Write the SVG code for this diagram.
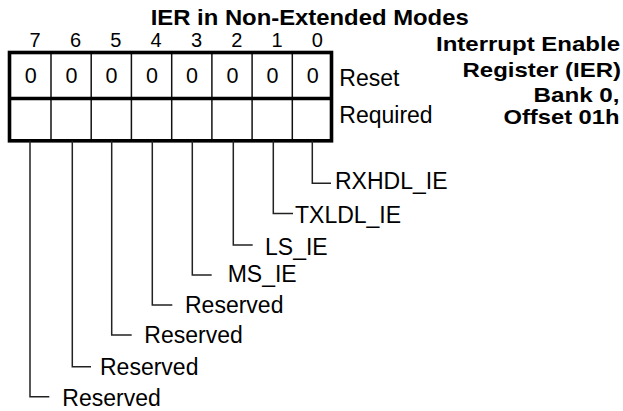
<svg xmlns="http://www.w3.org/2000/svg" width="623" height="411" viewBox="0 0 623 411">
<style>
.b{font-family:"Liberation Sans",Arial,sans-serif;font-weight:bold;font-size:20.5px;fill:#000}
.h{font-family:"Liberation Sans",Arial,sans-serif;font-weight:bold;font-size:22px;fill:#000}
.t{font-family:"Liberation Sans",Arial,sans-serif;font-size:23px;fill:#000}
.d{font-family:"Liberation Sans",Arial,sans-serif;font-size:20px;fill:#000;text-anchor:middle}
.z{font-family:"Liberation Sans",Arial,sans-serif;font-size:21.5px;fill:#000;text-anchor:middle}
.thick{stroke:#000;stroke-width:3.6;fill:none}
.thin{stroke:#111;stroke-width:1.5;fill:none}
.c{stroke:#222;stroke-width:1.5;fill:none}
</style>
<rect width="623" height="411" fill="#fff"/>
<g id="title">
<text class="h" x="150.7" y="25.3" textLength="318" lengthAdjust="spacingAndGlyphs">IER in Non-Extended Modes</text>
</g>
<g id="caption">
<text class="b" x="436" y="50.5" textLength="184" lengthAdjust="spacingAndGlyphs">Interrupt Enable</text>
<text class="b" x="462.5" y="77" textLength="158.5" lengthAdjust="spacingAndGlyphs">Register (IER)</text>
<text class="b" x="533.5" y="102" textLength="86" lengthAdjust="spacingAndGlyphs">Bank 0,</text>
<text class="b" x="503.5" y="124" textLength="116" lengthAdjust="spacingAndGlyphs">Offset 01h</text>
</g>
<g id="bit-numbers">
<text class="d" x="35" y="47">7</text>
<text class="d" x="75.6" y="47">6</text>
<text class="d" x="115.8" y="47">5</text>
<text class="d" x="156" y="47">4</text>
<text class="d" x="196.5" y="47">3</text>
<text class="d" x="236.7" y="47">2</text>
<text class="d" x="277" y="47">1</text>
<text class="d" x="317.3" y="47">0</text>
</g>
<g id="register">
<line class="thin" x1="51" y1="52.5" x2="51" y2="140.8"/>
<line class="thin" x1="91.2" y1="52.5" x2="91.2" y2="140.8"/>
<line class="thin" x1="131.4" y1="52.5" x2="131.4" y2="140.8"/>
<line class="thin" x1="171.7" y1="52.5" x2="171.7" y2="140.8"/>
<line class="thin" x1="211.9" y1="52.5" x2="211.9" y2="140.8"/>
<line class="thin" x1="252.1" y1="52.5" x2="252.1" y2="140.8"/>
<line class="thin" x1="292.3" y1="52.5" x2="292.3" y2="140.8"/>
<rect class="thick" x="9.5" y="52.5" width="322" height="88.3"/>
<line class="thick" x1="9.5" y1="98.5" x2="331.5" y2="98.5" stroke-width="4"/>
<text class="z" x="30.7" y="83.3">0</text>
<text class="z" x="71.4" y="83.3">0</text>
<text class="z" x="111.6" y="83.3">0</text>
<text class="z" x="151.9" y="83.3">0</text>
<text class="z" x="192.1" y="83.3">0</text>
<text class="z" x="232.4" y="83.3">0</text>
<text class="z" x="272.6" y="83.3">0</text>
<text class="z" x="312.8" y="83.3">0</text>
<text class="t" x="339.3" y="86">Reset</text>
<text class="t" x="339.3" y="123">Required</text>
</g>
<g id="connectors">
<polyline class="c" points="312.3,140.8 312.3,183.3 331,183.3"/>
<polyline class="c" points="273.3,140.8 273.3,213.5 293,213.5"/>
<polyline class="c" points="233.3,140.8 233.3,245 252.7,245"/>
<polyline class="c" points="192.3,140.8 192.3,275 211.7,275"/>
<polyline class="c" points="152.3,140.8 152.3,305 172.3,305"/>
<polyline class="c" points="111.7,140.8 111.7,335 131.7,335"/>
<polyline class="c" points="72.3,140.8 72.3,366.7 91,366.7"/>
<polyline class="c" points="30,140.8 30,396.7 49.3,396.7"/>
</g>
<g id="labels">
<text class="t" x="335" y="188.5">RXHDL_IE</text>
<text class="t" x="295" y="223">TXLDL_IE</text>
<text class="t" x="265" y="254.5">LS_IE</text>
<text class="t" x="227.7" y="281.7">MS_IE</text>
<text class="t" x="185" y="313">Reserved</text>
<text class="t" x="144.3" y="343">Reserved</text>
<text class="t" x="100" y="374.5">Reserved</text>
<text class="t" x="62.3" y="406">Reserved</text>
</g>
</svg>
